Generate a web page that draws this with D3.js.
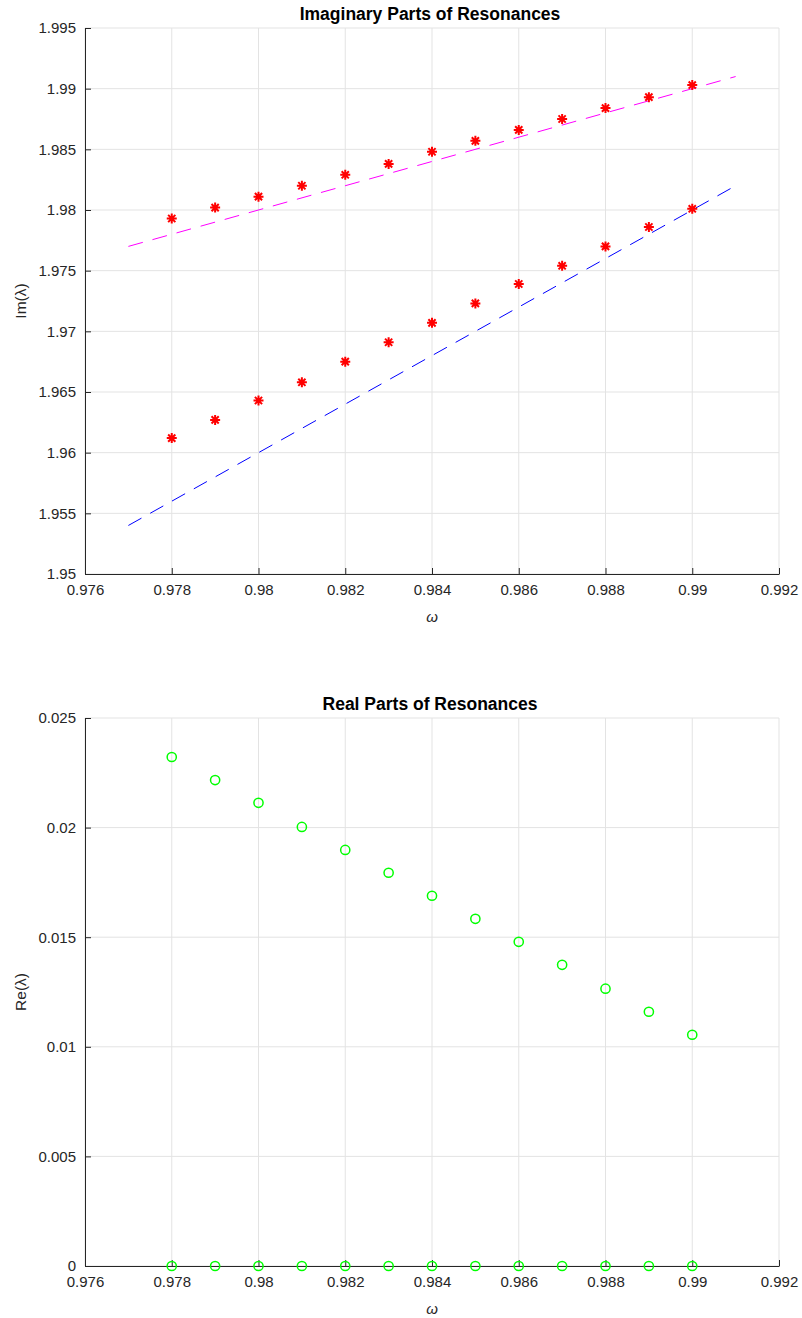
<!DOCTYPE html>
<html><head><meta charset="utf-8">
<script src="https://cdn.jsdelivr.net/npm/d3@7"></script>
<style>body{margin:0;background:#fff}svg{display:block}text{font-family:"Liberation Sans",Arial,Helvetica,sans-serif}</style>
</head><body>
<svg id="c" width="802" height="1318"></svg>
<script>
const omega = [0.978,0.979,0.980,0.981,0.982,0.983,0.984,0.985,0.986,0.987,0.988,0.989,0.990];
const imUpper = [1.9793,1.9802,1.9811,1.9820,1.9829,1.9838,1.9848,1.9857,1.9866,1.9875,1.9884,1.9893,1.9903];
const imLower = [1.9612,1.9627,1.9643,1.9658,1.9675,1.9691,1.9707,1.9723,1.9739,1.9754,1.9770,1.9786,1.9801];
const refX = [0.977, 0.991];
const refMagenta = [1.977, 1.991];
const refBlue = [1.954, 1.982];
const reUpper = [0.02322,0.02217,0.02113,0.02003,0.01898,0.01794,0.01689,0.01584,0.01479,0.01374,0.01265,0.01160,0.01055];
const reZero = [0,0,0,0,0,0,0,0,0,0,0,0,0];
const xTicks = [0.976,0.978,0.98,0.982,0.984,0.986,0.988,0.99,0.992];
const xTickLabels = ["0.976","0.978","0.98","0.982","0.984","0.986","0.988","0.99","0.992"];
const imTicks = [1.95,1.955,1.96,1.965,1.97,1.975,1.98,1.985,1.99,1.995];
const imTickLabels = ["1.95","1.955","1.96","1.965","1.97","1.975","1.98","1.985","1.99","1.995"];
const reTicks = [0,0.005,0.01,0.015,0.02,0.025];
const reTickLabels = ["0","0.005","0.01","0.015","0.02","0.025"];

const svg = d3.select("#c");
const L = 85, R = 779;

function panel(top, bottom, yDomain, yTicks, yLabels, title, ylab) {
  const g = svg.append("g");
  const x = d3.scaleLinear().domain([0.976,0.992]).range([L,R]);
  const y = d3.scaleLinear().domain(yDomain).range([bottom, top]);
  g.append("g").selectAll("line").data(xTicks).join("line")
    .attr("x1", d=>x(d)).attr("x2", d=>x(d)).attr("y1", top).attr("y2", bottom)
    .attr("stroke","#e3e3e3").attr("stroke-width",1);
  g.append("g").selectAll("line").data(yTicks).join("line")
    .attr("y1", d=>y(d)).attr("y2", d=>y(d)).attr("x1", L).attr("x2", R)
    .attr("stroke","#e3e3e3").attr("stroke-width",1);
  const xa = d3.axisBottom(x).tickValues(xTicks).tickFormat((d,i)=>xTickLabels[i]).tickSizeInner(-6).tickSizeOuter(0).tickPadding(10);
  const ya = d3.axisLeft(y).tickValues(yTicks).tickFormat((d,i)=>yLabels[i]).tickSizeInner(-6).tickSizeOuter(0).tickPadding(9);
  const gx = g.append("g").attr("transform",`translate(0,${bottom})`).call(xa);
  const gy = g.append("g").attr("transform",`translate(${L},0)`).call(ya);
  [gx,gy].forEach(a=>{
    a.select(".domain").attr("stroke","#262626").attr("stroke-width",1);
    a.selectAll(".tick line").attr("stroke","#262626");
    a.selectAll(".tick text").attr("fill","#262626").style("font-size","15px");
  });
  g.append("text").attr("x",(L+R)/2 - 2).attr("y",top-8).attr("text-anchor","middle")
    .style("font-size","17.5px").style("font-weight","bold").attr("fill","#000").text(title);
  g.append("text").attr("x",(L+R)/2).attr("y",bottom+48).attr("text-anchor","middle")
    .style("font-size","15px").style("font-style","italic").attr("fill","#262626").text("ω");
  g.append("text").attr("transform",`translate(26,${(top+bottom)/2}) rotate(-90)`).attr("text-anchor","middle")
    .style("font-size","15.5px").attr("fill","#262626").text(ylab);
  return {g,x,y};
}

function star(g, cx, cy, s, col) {
  const p = d3.path();
  p.moveTo(cx-s,cy); p.lineTo(cx+s,cy);
  p.moveTo(cx,cy-s); p.lineTo(cx,cy+s);
  const d = s*0.72;
  p.moveTo(cx-d,cy-d); p.lineTo(cx+d,cy+d);
  p.moveTo(cx-d,cy+d); p.lineTo(cx+d,cy-d);
  g.append("path").attr("d",p.toString()).attr("stroke",col).attr("stroke-width",2).attr("fill","none");
}

const p1 = panel(28, 574, [1.95,1.995], imTicks, imTickLabels, "Imaginary Parts of Resonances", "Im(λ)");
const ln = d3.line().x(d=>p1.x(d[0])).y(d=>p1.y(d[1]));
p1.g.append("path").attr("d", ln(refX.map((v,i)=>[v,refMagenta[i]]))).attr("stroke","#ff00ff").attr("stroke-width",1).attr("stroke-dasharray","15,10").attr("fill","none");
p1.g.append("path").attr("d", ln(refX.map((v,i)=>[v,refBlue[i]]))).attr("stroke","#0000ff").attr("stroke-width",1).attr("stroke-dasharray","15,10").attr("fill","none");
omega.forEach((w,i)=>{ star(p1.g, p1.x(w), p1.y(imUpper[i]), 5, "#ff0000"); star(p1.g, p1.x(w), p1.y(imLower[i]), 5, "#ff0000"); });

const p2 = panel(718, 1266, [0,0.025], reTicks, reTickLabels, "Real Parts of Resonances", "Re(λ)");
const circ = [...omega.map((w,i)=>[w,reUpper[i]]), ...omega.map((w,i)=>[w,reZero[i]])];
p2.g.append("g").selectAll("circle").data(circ).join("circle")
  .attr("cx",d=>p2.x(d[0])).attr("cy",d=>p2.y(d[1])).attr("r",4.6)
  .attr("fill","none").attr("stroke","#00ff00").attr("stroke-width",1.5);
</script>
</body></html>
